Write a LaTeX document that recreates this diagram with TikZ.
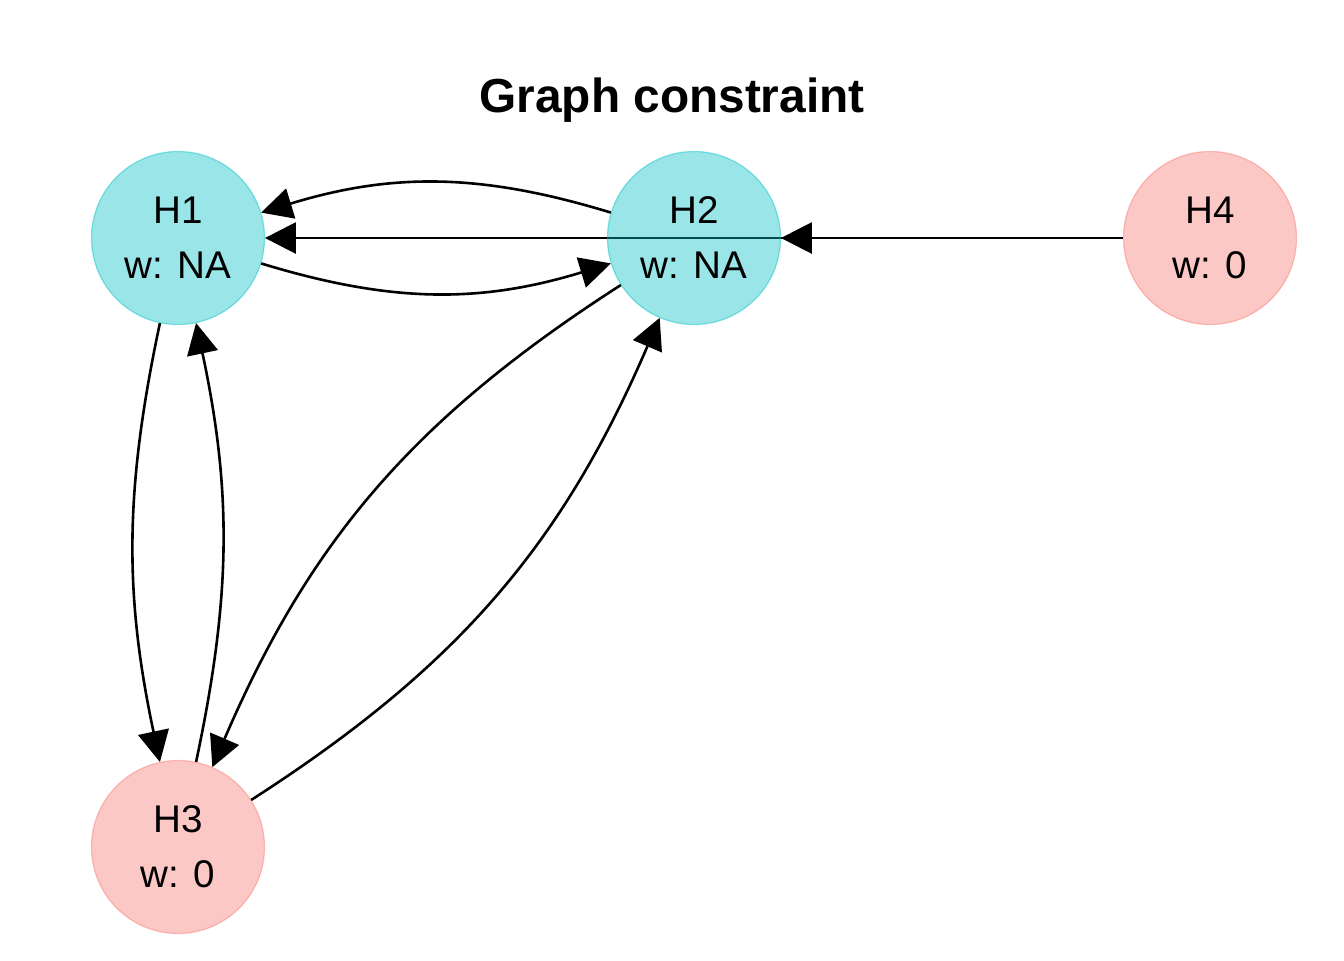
\documentclass[tikz,border=0pt]{standalone}
\usepackage{fontspec}
\setmainfont{Liberation Sans}
\usetikzlibrary{arrows.meta}
\definecolor{hypcyan}{RGB}{0,191,196}
\definecolor{hypred}{RGB}{248,118,109}
\tikzset{
    % hypothesis nodes
    hypnode/.style={
        circle, minimum size=86.5pt, inner sep=0pt,
        fill=#1, fill opacity=0.4, draw=#1, draw opacity=0.45, line width=0.6pt,
        text opacity=1, align=center,
        font=\fontsize{19.3}{27.5}\selectfont
    },
    arrow/.style={
        -{Triangle[length=15.5pt,width=15.5pt]}, line width=1.3pt, black
    },
    titletext/.style={
        font=\fontsize{23.9}{28}\selectfont\bfseries
    }
}
\begin{document}
\begin{tikzpicture}[x=0.5pt,y=-0.5pt]
\useasboundingbox (0,0) rectangle (1344,960);

% Title
\node[titletext] (title) at (672,100) {Graph constraint};

% Node positions
\coordinate (p1) at (178,238);
\coordinate (p2) at (694,238);
\coordinate (p3) at (178,847);
\coordinate (p4) at (1210,238);

% Invisible node outlines for the edges
\foreach \n in {1,2,3,4}
    \node[circle, minimum size=86.5pt, inner sep=0pt] (b\n) at (p\n) {};

% Edges
\draw[arrow] (b2) to[bend right=17] (b1);
\draw[arrow] (b1) to[bend right=17] (b2);
\draw[arrow] (b4) -- (b1);
\draw[arrow] (b4) -- (b2);
\draw[arrow] (b1) to[bend right=12] (b3);
\draw[arrow] (b3) to[bend right=12] (b1);
\draw[arrow] (b2) to[bend right=17] (b3);
\draw[arrow] (b3) to[bend right=17] (b2);

% Hypotheses
\node[hypnode=hypcyan] (h1) at (p1) {H1\\w: NA};
\node[hypnode=hypcyan] (h2) at (p2) {H2\\w: NA};
\node[hypnode=hypred] (h3) at (p3) {H3\\w: 0};
\node[hypnode=hypred] (h4) at (p4) {H4\\w: 0};

\end{tikzpicture}
\end{document}
